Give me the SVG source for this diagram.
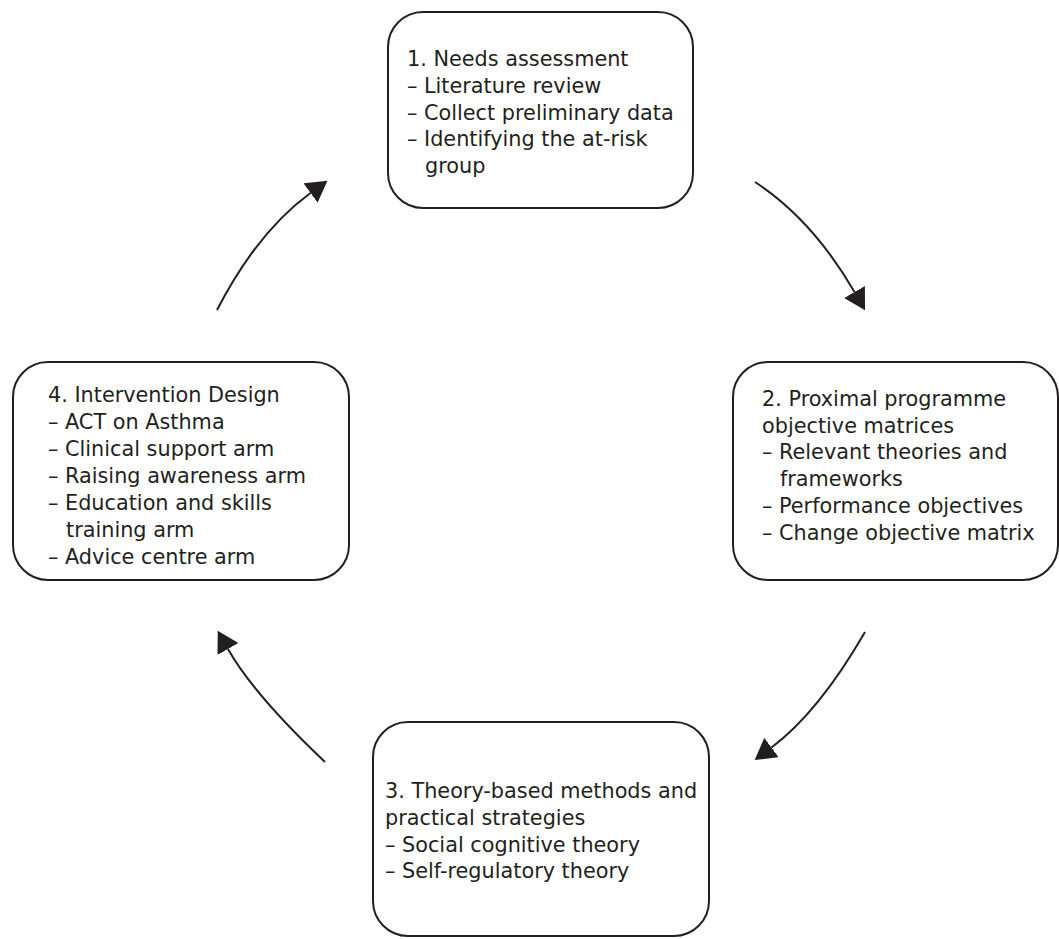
<svg xmlns="http://www.w3.org/2000/svg" width="1059" height="939" viewBox="0 0 1059 939">
  <style>
    .box { fill: #ffffff; stroke: #231f20; stroke-width: 2; }
    .lbl { font-family: "DejaVu Sans", "Open Sans", sans-serif; font-size: 20.8px; fill: #231f20; }
    .arc { fill: none; stroke: #231f20; stroke-width: 2; marker-end: url(#head); }
  </style>
  <defs>
    <marker id="head" viewBox="0 0 21 24" refX="0" refY="12" markerWidth="21" markerHeight="24" markerUnits="userSpaceOnUse" orient="auto">
      <path d="M0,0 L21,12 L0,24 z" fill="#231f20"/>
    </marker>
  </defs>
  <rect width="1059" height="939" fill="#ffffff"/>

  <g id="connectors">
    <path class="arc" d="M755,182 Q812.5,219.6 854.5,292"/>
    <path class="arc" d="M865,632 Q818.7,712.2 771.5,747.5"/>
    <path class="arc" d="M325,762 Q253.6,694.5 228,649"/>
    <path class="arc" d="M217,310 Q257.5,231.6 310.5,193"/>
  </g>

  <g id="node-1">
    <rect class="box" x="388" y="12" width="305" height="196" rx="35" ry="35"/>
    <text class="lbl">
      <tspan x="407" y="66">1. Needs assessment</tspan>
      <tspan x="407" y="93">– Literature review</tspan>
      <tspan x="407" y="120">– Collect preliminary data</tspan>
      <tspan x="407" y="146">– Identifying the at-risk</tspan>
      <tspan x="425" y="173">group</tspan>
    </text>
  </g>

  <g id="node-2">
    <rect class="box" x="733" y="362" width="325" height="218" rx="35" ry="35"/>
    <text class="lbl">
      <tspan x="762" y="406">2. Proximal programme</tspan>
      <tspan x="762" y="433">objective matrices</tspan>
      <tspan x="762" y="459">– Relevant theories and</tspan>
      <tspan x="780" y="486">frameworks</tspan>
      <tspan x="762" y="513">– Performance objectives</tspan>
      <tspan x="762" y="540">– Change objective matrix</tspan>
    </text>
  </g>

  <g id="node-3">
    <rect class="box" x="373" y="722" width="336" height="214" rx="35" ry="35"/>
    <text class="lbl">
      <tspan x="385" y="798">3. Theory-based methods and</tspan>
      <tspan x="385" y="825">practical strategies</tspan>
      <tspan x="385" y="852">– Social cognitive theory</tspan>
      <tspan x="385" y="878">– Self-regulatory theory</tspan>
    </text>
  </g>

  <g id="node-4">
    <rect class="box" x="13" y="362" width="336" height="218" rx="35" ry="35"/>
    <text class="lbl">
      <tspan x="48" y="402">4. Intervention Design</tspan>
      <tspan x="48" y="429">– ACT on Asthma</tspan>
      <tspan x="48" y="456">– Clinical support arm</tspan>
      <tspan x="48" y="483">– Raising awareness arm</tspan>
      <tspan x="48" y="510">– Education and skills</tspan>
      <tspan x="66" y="537">training arm</tspan>
      <tspan x="48" y="564">– Advice centre arm</tspan>
    </text>
  </g>
</svg>
